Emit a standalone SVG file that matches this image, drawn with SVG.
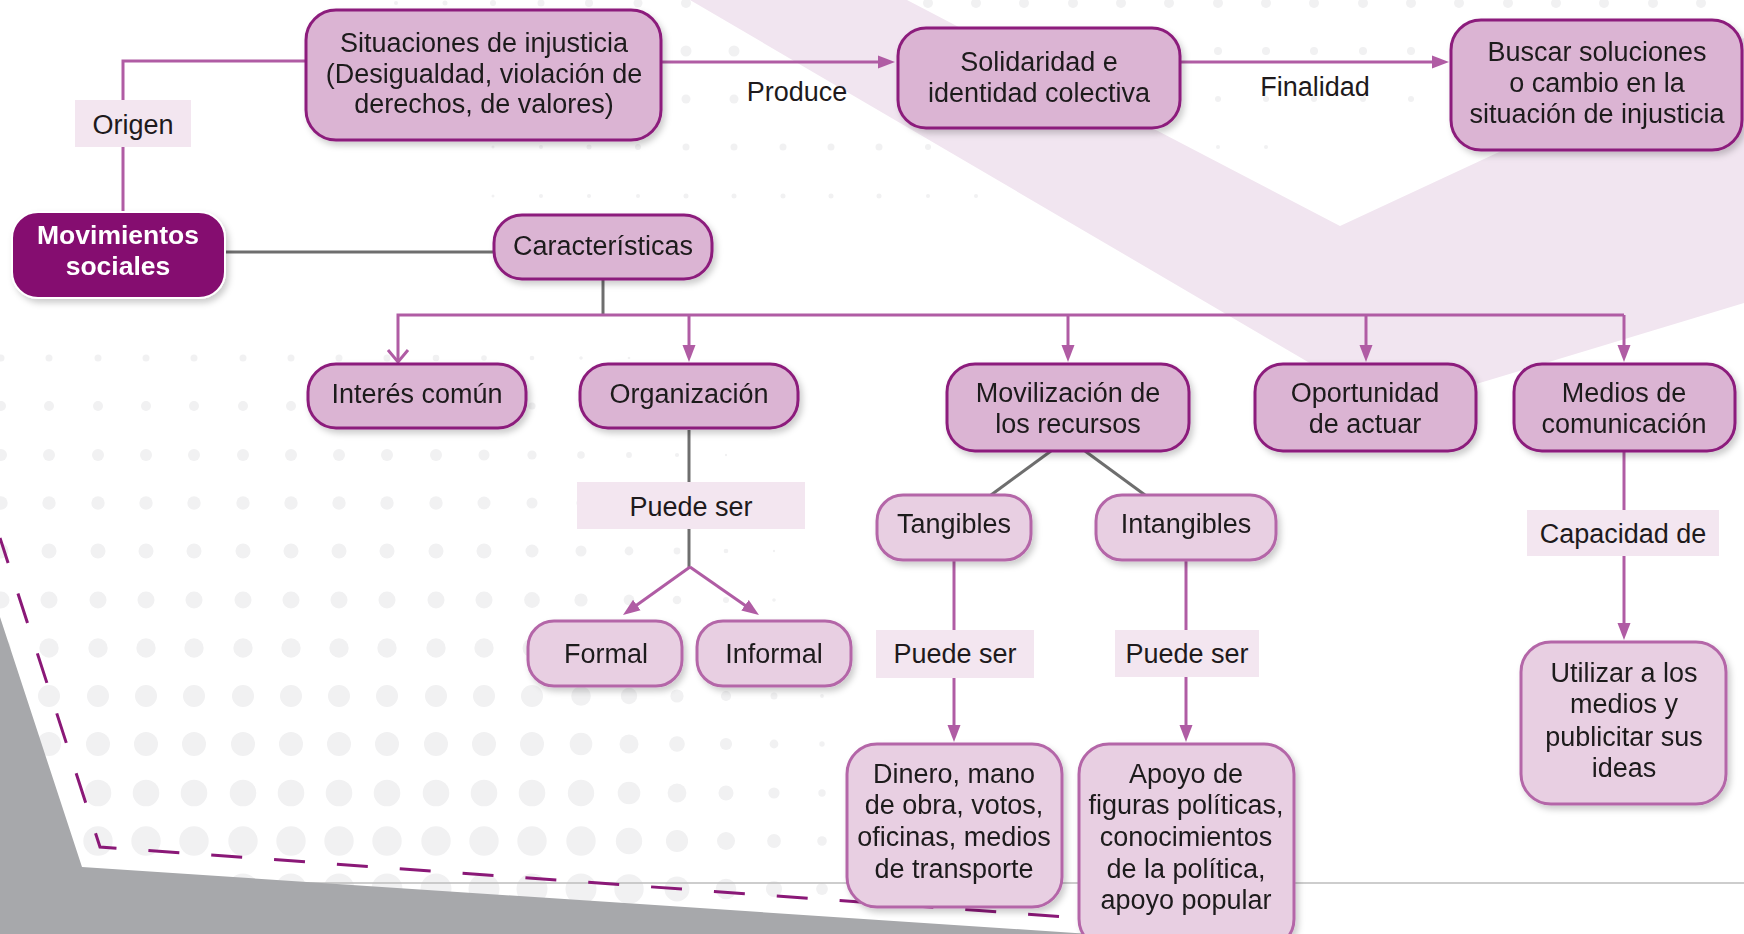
<svg xmlns="http://www.w3.org/2000/svg" width="1744" height="934" viewBox="0 0 1744 934">
<style>
.n{fill:#DBB4D3;stroke:#8C1C7C;stroke-width:3}
.n2{fill:#E8CFE2;stroke:#B466A8;stroke-width:3}
.lb{fill:#F3E6F0}
.t{font-family:"Liberation Sans",Arial,sans-serif;font-size:27px;fill:#1E1A1C;text-anchor:middle}
.tb{font-family:"Liberation Sans",Arial,sans-serif;font-weight:bold;fill:#FFFFFF;font-size:26.5px;text-anchor:middle}
.c{fill:none;stroke:#B05CA4;stroke-width:3}
.g{fill:none;stroke:#6E6E6E;stroke-width:3}
.dots circle{fill:#F1F1F2}
</style>
<defs>
<filter id="sh" x="-10%" y="-10%" width="130%" height="140%">
<feDropShadow dx="3" dy="4" stdDeviation="3" flood-color="#000" flood-opacity="0.2"/>
</filter>
<marker id="ar" viewBox="0 0 18 14" refX="9" refY="7" markerWidth="18" markerHeight="14" markerUnits="userSpaceOnUse" orient="auto">
<path d="M0,0.5 L17,7 L0,13.5 Z" fill="#B05CA4"/>
</marker>
</defs>

<g id="background">
<rect x="0" y="0" width="1744" height="934" fill="#FFFFFF"/>
<g class="dots">
<!-- top pattern -->
<circle cx="396" cy="3" r="2"/><circle cx="445" cy="3" r="2.5"/><circle cx="493" cy="3" r="3"/><circle cx="541" cy="3" r="3.5"/><circle cx="589" cy="3" r="4"/><circle cx="638" cy="3" r="4.5"/><circle cx="686" cy="3" r="5"/><circle cx="928" cy="3" r="5"/><circle cx="976" cy="3" r="5"/><circle cx="1024" cy="3" r="5"/><circle cx="1073" cy="3" r="5"/><circle cx="1121" cy="3" r="5"/><circle cx="1169" cy="3" r="5"/><circle cx="1218" cy="3" r="5"/><circle cx="1266" cy="3" r="5"/><circle cx="1314" cy="3" r="5"/><circle cx="1363" cy="3" r="5"/><circle cx="1411" cy="3" r="5"/><circle cx="1459" cy="3" r="5"/><circle cx="1508" cy="3" r="5"/><circle cx="1556" cy="3" r="5"/><circle cx="1604" cy="3" r="5"/><circle cx="1653" cy="3" r="5"/><circle cx="1701" cy="3" r="5"/>
<circle cx="686" cy="51" r="5.5"/><circle cx="734" cy="51" r="5.5"/><circle cx="1218" cy="51" r="4"/><circle cx="1266" cy="51" r="4"/><circle cx="1314" cy="51" r="4"/><circle cx="1363" cy="51" r="4"/><circle cx="1411" cy="51" r="4"/>
<circle cx="686" cy="99" r="4.5"/><circle cx="734" cy="99" r="4.5"/><circle cx="1218" cy="99" r="3"/><circle cx="1266" cy="99" r="3"/><circle cx="1314" cy="99" r="3"/><circle cx="1363" cy="99" r="3"/><circle cx="1411" cy="99" r="3"/>
<circle cx="493" cy="147" r="1.5"/><circle cx="541" cy="147" r="2"/><circle cx="589" cy="147" r="2.5"/><circle cx="638" cy="147" r="3"/><circle cx="686" cy="147" r="3.5"/><circle cx="734" cy="147" r="3.5"/><circle cx="783" cy="147" r="3.5"/><circle cx="831" cy="147" r="3.5"/><circle cx="879" cy="147" r="3.5"/><circle cx="928" cy="147" r="3"/><circle cx="1218" cy="147" r="2"/><circle cx="1266" cy="147" r="2"/>
<circle cx="493" cy="196" r="1.5"/><circle cx="541" cy="196" r="2"/><circle cx="589" cy="196" r="2"/><circle cx="638" cy="196" r="2"/><circle cx="686" cy="196" r="2.5"/><circle cx="734" cy="196" r="2.5"/><circle cx="783" cy="196" r="2.5"/><circle cx="831" cy="196" r="2.5"/><circle cx="879" cy="196" r="2.5"/><circle cx="928" cy="196" r="2"/><circle cx="976" cy="196" r="2"/>
<!-- bottom-left pattern -->
<circle cx="1" cy="358" r="3.5"/><circle cx="49" cy="358" r="3.5"/><circle cx="98" cy="358" r="3.5"/><circle cx="146" cy="358" r="3.5"/><circle cx="194" cy="358" r="3.5"/><circle cx="243" cy="358" r="3.5"/><circle cx="291" cy="358" r="3.5"/><circle cx="339" cy="358" r="3.5"/><circle cx="387" cy="358" r="3.5"/><circle cx="436" cy="358" r="3.3"/><circle cx="484" cy="358" r="2.8"/><circle cx="532" cy="358" r="2.3"/><circle cx="581" cy="358" r="1.8"/><circle cx="629" cy="358" r="1.3"/>
<circle cx="1" cy="406" r="5"/><circle cx="49" cy="406" r="5"/><circle cx="98" cy="406" r="5"/><circle cx="146" cy="406" r="5"/><circle cx="194" cy="406" r="5"/><circle cx="243" cy="406" r="5"/><circle cx="291" cy="406" r="5"/><circle cx="339" cy="406" r="5"/><circle cx="387" cy="406" r="5"/><circle cx="436" cy="406" r="5"/><circle cx="484" cy="406" r="4.3"/><circle cx="532" cy="406" r="3.6"/><circle cx="581" cy="406" r="2.9"/><circle cx="629" cy="406" r="2.2"/><circle cx="677" cy="406" r="1.5"/>
<circle cx="1" cy="455" r="6"/><circle cx="49" cy="455" r="6"/><circle cx="98" cy="455" r="6"/><circle cx="146" cy="455" r="6"/><circle cx="194" cy="455" r="6"/><circle cx="243" cy="455" r="6"/><circle cx="291" cy="455" r="6"/><circle cx="339" cy="455" r="6"/><circle cx="387" cy="455" r="6"/><circle cx="436" cy="455" r="6"/><circle cx="484" cy="455" r="5.5"/><circle cx="532" cy="455" r="4.6"/><circle cx="581" cy="455" r="3.8"/><circle cx="629" cy="455" r="2.9"/><circle cx="677" cy="455" r="2.1"/><circle cx="726" cy="455" r="1.2"/>
<circle cx="1" cy="503" r="6.7"/><circle cx="49" cy="503" r="6.7"/><circle cx="98" cy="503" r="6.7"/><circle cx="146" cy="503" r="6.7"/><circle cx="194" cy="503" r="6.7"/><circle cx="243" cy="503" r="6.7"/><circle cx="291" cy="503" r="6.7"/><circle cx="339" cy="503" r="6.7"/><circle cx="387" cy="503" r="6.7"/><circle cx="436" cy="503" r="6.7"/><circle cx="484" cy="503" r="6.5"/><circle cx="532" cy="503" r="5.5"/><circle cx="581" cy="503" r="4.6"/><circle cx="629" cy="503" r="3.6"/><circle cx="677" cy="503" r="2.7"/><circle cx="726" cy="503" r="1.7"/>
<circle cx="1" cy="551" r="7.5"/><circle cx="49" cy="551" r="7.5"/><circle cx="98" cy="551" r="7.5"/><circle cx="146" cy="551" r="7.5"/><circle cx="194" cy="551" r="7.5"/><circle cx="243" cy="551" r="7.5"/><circle cx="291" cy="551" r="7.5"/><circle cx="339" cy="551" r="7.5"/><circle cx="387" cy="551" r="7.5"/><circle cx="436" cy="551" r="7.5"/><circle cx="484" cy="551" r="7.5"/><circle cx="532" cy="551" r="6.5"/><circle cx="581" cy="551" r="5.5"/><circle cx="629" cy="551" r="4.4"/><circle cx="677" cy="551" r="3.4"/><circle cx="726" cy="551" r="2.3"/><circle cx="774" cy="551" r="1.2"/>
<circle cx="1" cy="600" r="8.5"/><circle cx="49" cy="600" r="8.5"/><circle cx="98" cy="600" r="8.5"/><circle cx="146" cy="600" r="8.5"/><circle cx="194" cy="600" r="8.5"/><circle cx="243" cy="600" r="8.5"/><circle cx="291" cy="600" r="8.5"/><circle cx="339" cy="600" r="8.5"/><circle cx="387" cy="600" r="8.5"/><circle cx="436" cy="600" r="8.5"/><circle cx="484" cy="600" r="8.5"/><circle cx="532" cy="600" r="7.9"/><circle cx="581" cy="600" r="6.6"/><circle cx="629" cy="600" r="5.4"/><circle cx="677" cy="600" r="4.3"/><circle cx="726" cy="600" r="3"/><circle cx="774" cy="600" r="1.8"/>
<circle cx="1" cy="648" r="9.7"/><circle cx="49" cy="648" r="9.7"/><circle cx="98" cy="648" r="9.7"/><circle cx="146" cy="648" r="9.7"/><circle cx="194" cy="648" r="9.7"/><circle cx="243" cy="648" r="9.7"/><circle cx="291" cy="648" r="9.7"/><circle cx="339" cy="648" r="9.7"/><circle cx="387" cy="648" r="9.7"/><circle cx="436" cy="648" r="9.7"/><circle cx="484" cy="648" r="9.7"/><circle cx="532" cy="648" r="9.5"/><circle cx="581" cy="648" r="8.1"/><circle cx="629" cy="648" r="6.7"/><circle cx="677" cy="648" r="5.3"/><circle cx="726" cy="648" r="4"/><circle cx="774" cy="648" r="2.6"/><circle cx="822" cy="648" r="1.2"/>
<circle cx="49" cy="696" r="11"/><circle cx="98" cy="696" r="11"/><circle cx="146" cy="696" r="11"/><circle cx="194" cy="696" r="11"/><circle cx="243" cy="696" r="11"/><circle cx="291" cy="696" r="11"/><circle cx="339" cy="696" r="11"/><circle cx="387" cy="696" r="11"/><circle cx="436" cy="696" r="11"/><circle cx="484" cy="696" r="11"/><circle cx="532" cy="696" r="11"/><circle cx="581" cy="696" r="9.8"/><circle cx="629" cy="696" r="8.2"/><circle cx="677" cy="696" r="6.6"/><circle cx="726" cy="696" r="5.1"/><circle cx="774" cy="696" r="3.5"/><circle cx="822" cy="696" r="1.9"/>
<circle cx="49" cy="744" r="12"/><circle cx="98" cy="744" r="12"/><circle cx="146" cy="744" r="12"/><circle cx="194" cy="744" r="12"/><circle cx="243" cy="744" r="12"/><circle cx="291" cy="744" r="12"/><circle cx="339" cy="744" r="12"/><circle cx="387" cy="744" r="12"/><circle cx="436" cy="744" r="12"/><circle cx="484" cy="744" r="12"/><circle cx="532" cy="744" r="12"/><circle cx="581" cy="744" r="11.3"/><circle cx="629" cy="744" r="9.5"/><circle cx="677" cy="744" r="7.8"/><circle cx="726" cy="744" r="6.1"/><circle cx="774" cy="744" r="4.4"/><circle cx="822" cy="744" r="2.7"/><circle cx="870" cy="744" r="1"/>
<circle cx="98" cy="793" r="13.3"/><circle cx="146" cy="793" r="13.3"/><circle cx="194" cy="793" r="13.3"/><circle cx="243" cy="793" r="13.3"/><circle cx="291" cy="793" r="13.3"/><circle cx="339" cy="793" r="13.3"/><circle cx="387" cy="793" r="13.3"/><circle cx="436" cy="793" r="13.3"/><circle cx="484" cy="793" r="13.3"/><circle cx="532" cy="793" r="13.3"/><circle cx="581" cy="793" r="13.2"/><circle cx="629" cy="793" r="11.3"/><circle cx="677" cy="793" r="9.4"/><circle cx="726" cy="793" r="7.5"/><circle cx="774" cy="793" r="5.6"/><circle cx="822" cy="793" r="3.7"/><circle cx="870" cy="793" r="1.8"/>
<circle cx="98" cy="841" r="14.7"/><circle cx="146" cy="841" r="14.7"/><circle cx="194" cy="841" r="14.7"/><circle cx="243" cy="841" r="14.7"/><circle cx="291" cy="841" r="14.7"/><circle cx="339" cy="841" r="14.7"/><circle cx="387" cy="841" r="14.7"/><circle cx="436" cy="841" r="14.7"/><circle cx="484" cy="841" r="14.7"/><circle cx="532" cy="841" r="14.7"/><circle cx="581" cy="841" r="14.7"/><circle cx="629" cy="841" r="13.2"/><circle cx="677" cy="841" r="11.1"/><circle cx="726" cy="841" r="9"/><circle cx="774" cy="841" r="6.9"/><circle cx="822" cy="841" r="4.8"/><circle cx="870" cy="841" r="2.8"/>
<circle cx="243" cy="889" r="15.5"/><circle cx="291" cy="889" r="15.5"/><circle cx="339" cy="889" r="15.5"/><circle cx="387" cy="889" r="15.5"/><circle cx="436" cy="889" r="15.5"/><circle cx="484" cy="889" r="15.5"/><circle cx="532" cy="889" r="15.5"/><circle cx="581" cy="889" r="15.5"/><circle cx="629" cy="889" r="14.7"/><circle cx="677" cy="889" r="12.5"/><circle cx="726" cy="889" r="10.3"/><circle cx="774" cy="889" r="8.1"/><circle cx="822" cy="889" r="5.9"/><circle cx="870" cy="889" r="3.7"/><circle cx="919" cy="889" r="1.5"/>
</g>
<polygon points="690,0 907,0 1340,226 1744,38 1744,303 1390,410" fill="#F1E5F0"/>
<line x1="0" y1="883" x2="1744" y2="883" stroke="#BDBDBD" stroke-width="1.5"/>
<polygon points="0,617 82,867 1090,934 0,934" fill="#A7A8AB"/>
<path d="M0,538 L100,847 L1095,919" fill="none" stroke="#8A1877" stroke-width="3" stroke-dasharray="31 32" stroke-dashoffset="4.7"/>
</g>

<g id="connectors">
<path class="c" d="M123,212 V61 H306"/>
<path class="c" d="M661,62 H887" marker-end="url(#ar)"/>
<path class="c" d="M1180,62 H1441" marker-end="url(#ar)"/>
<path class="g" d="M225,252 H494"/>
<path class="g" d="M603,279 V315"/>
<path class="c" d="M398,362 V315 H1624"/>
<path class="c" d="M388,350 L398,362 L408,350"/>
<path class="c" d="M689,315 V354" marker-end="url(#ar)"/>
<path class="c" d="M1068,315 V354" marker-end="url(#ar)"/>
<path class="c" d="M1366,315 V354" marker-end="url(#ar)"/>
<path class="c" d="M1624,315 V354" marker-end="url(#ar)"/>
<path class="g" d="M689,430 V482"/>
<path class="g" d="M689,529 V567"/>
<path class="c" d="M690,567 L629.5,610.3" marker-end="url(#ar)"/>
<path class="c" d="M690,567 L752.4,610.4" marker-end="url(#ar)"/>
<path class="g" d="M1051,451 L991,495"/>
<path class="g" d="M1085,451 L1145,495"/>
<path class="c" d="M954,560 V630"/>
<path class="c" d="M954,678 V734" marker-end="url(#ar)"/>
<path class="c" d="M1186,560 V630"/>
<path class="c" d="M1186,677 V734" marker-end="url(#ar)"/>
<path class="c" d="M1624,451 V510"/>
<path class="c" d="M1624,556 V632" marker-end="url(#ar)"/>
</g>

<g id="lbl-origen"><rect class="lb" x="75" y="100" width="116" height="47"/><text class="t" x="133" y="134">Origen</text></g>
<g id="lbl-produce"><text class="t" x="797" y="101">Produce</text></g>
<g id="lbl-finalidad"><text class="t" x="1315" y="96">Finalidad</text></g>
<g id="lbl-puede1"><rect class="lb" x="577" y="482" width="228" height="47"/><text class="t" x="691" y="516">Puede ser</text></g>
<g id="lbl-puede2"><rect class="lb" x="876" y="630" width="158" height="48"/><text class="t" x="955" y="663">Puede ser</text></g>
<g id="lbl-puede3"><rect class="lb" x="1115" y="630" width="144" height="47"/><text class="t" x="1187" y="663">Puede ser</text></g>
<g id="lbl-capacidad"><rect class="lb" x="1527" y="510" width="192" height="46"/><text class="t" x="1623" y="543">Capacidad de</text></g>

<g id="n-situaciones" filter="url(#sh)"><rect class="n" x="306" y="10" width="355" height="130" rx="30"/>
<text class="t" x="484" y="52">Situaciones de injusticia</text><text class="t" x="484" y="83">(Desigualdad, violación de</text><text class="t" x="484" y="113">derechos, de valores)</text></g>
<g id="n-solidaridad" filter="url(#sh)"><rect class="n" x="898" y="28" width="282" height="100" rx="28"/>
<text class="t" x="1039" y="71">Solidaridad e</text><text class="t" x="1039" y="102">identidad colectiva</text></g>
<g id="n-buscar" filter="url(#sh)"><rect class="n" x="1451" y="20" width="291" height="130" rx="30"/>
<text class="t" x="1597" y="61">Buscar soluciones</text><text class="t" x="1597" y="92">o cambio en la</text><text class="t" x="1597" y="123">situación de injusticia</text></g>
<g id="n-movimientos" filter="url(#sh)"><rect x="12" y="212" width="213" height="86" rx="26" fill="#850F70" stroke="#FFFFFF" stroke-width="2"/>
<text class="tb" x="118" y="244">Movimientos</text><text class="tb" x="118" y="275">sociales</text></g>
<g id="n-caracteristicas" filter="url(#sh)"><rect class="n" x="494" y="215" width="218" height="64" rx="28"/>
<text class="t" x="603" y="255">Características</text></g>
<g id="n-interes" filter="url(#sh)"><rect class="n" x="308" y="364" width="218" height="64" rx="28"/>
<text class="t" x="417" y="403">Interés común</text></g>
<g id="n-organizacion" filter="url(#sh)"><rect class="n" x="580" y="364" width="218" height="64" rx="28"/>
<text class="t" x="689" y="403">Organización</text></g>
<g id="n-movilizacion" filter="url(#sh)"><rect class="n" x="947" y="364" width="242" height="87" rx="28"/>
<text class="t" x="1068" y="402">Movilización de</text><text class="t" x="1068" y="433">los recursos</text></g>
<g id="n-oportunidad" filter="url(#sh)"><rect class="n" x="1255" y="364" width="221" height="87" rx="28"/>
<text class="t" x="1365" y="402">Oportunidad</text><text class="t" x="1365" y="433">de actuar</text></g>
<g id="n-medios" filter="url(#sh)"><rect class="n" x="1514" y="364" width="221" height="87" rx="28"/>
<text class="t" x="1624" y="402">Medios de</text><text class="t" x="1624" y="433">comunicación</text></g>
<g id="n-tangibles" filter="url(#sh)"><rect class="n2" x="877" y="495" width="154" height="65" rx="26"/>
<text class="t" x="954" y="533">Tangibles</text></g>
<g id="n-intangibles" filter="url(#sh)"><rect class="n2" x="1096" y="495" width="180" height="65" rx="26"/>
<text class="t" x="1186" y="533">Intangibles</text></g>
<g id="n-formal" filter="url(#sh)"><rect class="n2" x="528" y="621" width="154" height="65" rx="26"/>
<text class="t" x="606" y="663">Formal</text></g>
<g id="n-informal" filter="url(#sh)"><rect class="n2" x="697" y="621" width="154" height="65" rx="26"/>
<text class="t" x="774" y="663">Informal</text></g>
<g id="n-dinero" filter="url(#sh)"><rect class="n2" x="847" y="744" width="215" height="163" rx="30"/>
<text class="t" x="954" y="783">Dinero, mano</text><text class="t" x="954" y="814">de obra, votos,</text><text class="t" x="954" y="846">oficinas, medios</text><text class="t" x="954" y="878">de transporte</text></g>
<g id="n-apoyo" filter="url(#sh)"><rect class="n2" x="1079" y="744" width="215" height="205" rx="30"/>
<text class="t" x="1186" y="783">Apoyo de</text><text class="t" x="1186" y="814">figuras políticas,</text><text class="t" x="1186" y="846">conocimientos</text><text class="t" x="1186" y="878">de la política,</text><text class="t" x="1186" y="909">apoyo popular</text></g>
<g id="n-utilizar" filter="url(#sh)"><rect class="n2" x="1521" y="642" width="205" height="162" rx="30"/>
<text class="t" x="1624" y="682">Utilizar a los</text><text class="t" x="1624" y="713">medios y</text><text class="t" x="1624" y="746">publicitar sus</text><text class="t" x="1624" y="777">ideas</text></g>
</svg>
